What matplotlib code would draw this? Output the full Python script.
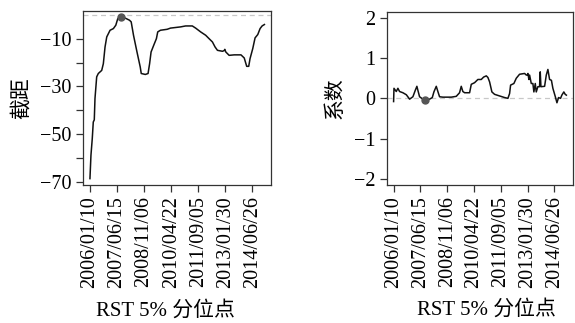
import matplotlib
matplotlib.use("Agg")
import matplotlib.pyplot as plt
import numpy as np

plt.rcParams['font.family'] = ['Liberation Serif', 'Noto Sans CJK SC', 'DejaVu Sans']

# x positions are observation indices (rolling window end points)
tick_labels = ["2006/01/10", "2007/06/15", "2008/11/06", "2010/04/22",
               "2011/09/05", "2013/01/30", "2014/06/26"]
tick_step = 350
n_obs = 2256

# intercept (截距)
int_idx = [0, 13, 30, 43, 56, 65, 87, 108, 152, 173, 195, 217, 260, 303, 334, 360,
           390, 403, 455, 511, 533, 563, 608, 650, 663, 716, 751, 771, 790, 824,
           859, 876, 911, 998, 1041, 1171, 1236, 1323, 1366, 1431, 1496, 1539,
           1583, 1617, 1648, 1713, 1735, 1743, 1756, 1799, 1864, 1952, 1994, 2026,
           2052, 2069, 2104, 2134, 2169, 2199, 2225, 2255]
int_val = [-68.6, -58.8, -51.8, -44.9, -44.0, -35.1, -26.0, -24.6, -23.3, -20.5,
           -13.5, -9.3, -6.5, -5.8, -4.4, -1.6, -1.0, -1.0, -1.4, -2.3, -3.0,
           -8.6, -15.6, -21.9, -24.6, -25.0, -24.6, -20.5, -15.6, -12.8, -10.0,
           -7.2, -6.5, -6.1, -5.6, -5.1, -4.7, -4.7, -5.6, -7.2, -8.6, -10.0,
           -11.4, -13.5, -14.9, -15.3, -15.0, -14.5, -15.6, -17.0, -16.8, -16.8,
           -18.1, -21.6, -21.6, -18.4, -14.2, -9.7, -8.3, -5.8, -4.7, -4.1]

# coefficient (系数)
coef_idx = [0, 5, 35, 56, 78, 121, 166, 209, 252, 283, 304, 317, 339, 382, 405,
            470, 505, 526, 557, 578, 600, 643, 753, 818, 861, 883, 904, 927, 992,
            1014, 1057, 1100, 1144, 1175, 1210, 1231, 1253, 1283, 1318, 1383,
            1449, 1492, 1514, 1527, 1570, 1601, 1644, 1710, 1732, 1745, 1753,
            1766, 1775, 1797, 1818, 1831, 1849, 1862, 1883, 1905, 1914, 1923,
            1971, 1993, 2014, 2036, 2060, 2079, 2111, 2132, 2153, 2179, 2196,
            2222, 2240, 2255]
coef_val = [-0.08, 0.25, 0.17, 0.25, 0.17, 0.14, 0.09, -0.02, 0.04, 0.20, 0.30,
            0.20, 0.04, -0.02, -0.04, -0.02, 0.02, 0.16, 0.30, 0.17, 0.04, 0.03,
            0.03, 0.05, 0.14, 0.30, 0.17, 0.14, 0.14, 0.35, 0.39, 0.47, 0.47,
            0.53, 0.56, 0.52, 0.41, 0.16, 0.10, 0.06, 0.02, 0.00, 0.12, 0.33,
            0.37, 0.50, 0.60, 0.62, 0.58, 0.58, 0.62, 0.47, 0.58, 0.37, 0.37,
            0.16, 0.37, 0.16, 0.29, 0.29, 0.66, 0.29, 0.30, 0.58, 0.72, 0.47,
            0.45, 0.25, 0.04, -0.11, 0.02, 0.00, 0.08, 0.16, 0.10, 0.08]

mark_idx = [403, 405]
mark_val = [-1.0, -0.04]

fig = plt.figure(figsize=(5.75, 3.23), dpi=100)
ax1 = fig.add_axes([0.1443, 0.427, 0.3277, 0.540])
ax2 = fig.add_axes([0.6725, 0.427, 0.3245, 0.537])

fs = 14.5
tick_pos = np.arange(len(tick_labels)) * tick_step

for ax, xs, ys, mx, my in [(ax1, int_idx, int_val, mark_idx[0], mark_val[0]),
                           (ax2, coef_idx, coef_val, mark_idx[1], mark_val[1])]:
    ax.axhline(0, color='#c8c8c8', lw=0.9, ls=(0, (4, 3)), zorder=1)
    ax.plot(xs, ys, color='#111111', lw=1.1, zorder=2)
    ax.plot([mx], [my], 'o', color='#555555', ms=5, zorder=3)
    ext = 0.04 * (n_obs - 1)
    ax.set_xlim(-ext, n_obs - 1 + ext)
    ax.set_xticks(tick_pos)
    ax.set_xticklabels(tick_labels, rotation=90, fontsize=fs)
    ax.tick_params(direction='out', length=5, width=0.9, color='#333333',
                   labelsize=fs, pad=3)
    for s in ax.spines.values():
        s.set_linewidth(0.9)
        s.set_color('#333333')

ax1.set_ylim(-71.3, 1.7)
ax1.set_yticks(np.arange(-70, 0, 10))
ax1.set_yticklabels(['−70', '', '−50', '', '−30', '', '−10'])
ax2.set_ylim(-2.16, 2.16)
ax2.set_yticks([-2, -1, 0, 1, 2])
ax2.set_yticklabels(['−2', '−1', '0', '1', '2'])

ax1.set_ylabel('截距', fontsize=15, family=['Noto Sans CJK SC'])
ax2.set_ylabel('系数', fontsize=15, family=['Noto Sans CJK SC'])
ax1.yaxis.set_label_coords(-0.27, 0.5)
ax2.yaxis.set_label_coords(-0.218, 0.5)

ax1.set_xlabel('RST 5% 分位点', fontsize=15)
ax2.set_xlabel('RST 5% 分位点', fontsize=15)
ax1.xaxis.set_label_coords(0.435, -0.665)
ax2.xaxis.set_label_coords(0.537, -0.665)

fig.savefig('out.png', dpi=100)
